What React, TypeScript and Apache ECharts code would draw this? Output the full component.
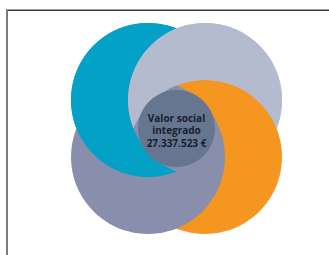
import React, { useEffect, useRef } from "react";
import * as echarts from "echarts";

// Diagram content
const labelLines: string[] = ["Valor social", "integrado"];
const totalValue: number = 27337523;
const currencySign: string = "€";
// petals clockwise from top-left: each one is covered by the next one
const petalColors: string[] = ["#04a1c6", "#b5bbce", "#f4961f", "#898eac"];
const centerColor = "#677690";
const textColor = "#18202f";

const W = 329;
const H = 255;
const CX = 176.5;
const CY = 128.5;
const OFF = 28.5;
const R = 77;
const RC = 38.5;
const DIRS = [
  [-1, -1],
  [1, -1],
  [1, 1],
  [-1, 1],
];

function fmt(n: number): string {
  return String(n).replace(/\B(?=(\d{3})+(?!\d))/g, ".");
}

function centerOf(i: number): [number, number] {
  return [CX + DIRS[i][0] * OFF, CY + DIRS[i][1] * OFF];
}

// crescent = circle i minus circle j (same radius)
function crescent(i: number, j: number): number[][] {
  const [ax, ay] = centerOf(i);
  const [bx, by] = centerOf(j);
  const d = Math.hypot(bx - ax, by - ay);
  const th = Math.atan2(by - ay, bx - ax);
  const al = Math.acos(d / (2 * R));
  const pts: number[][] = [];
  const n1 = 90;
  for (let k = 0; k <= n1; k++) {
    const a = th + al + ((2 * Math.PI - 2 * al) * k) / n1;
    pts.push([ax + R * Math.cos(a), ay + R * Math.sin(a)]);
  }
  const n2 = 40;
  for (let k = 1; k < n2; k++) {
    const a = th + Math.PI + al - (2 * al * k) / n2;
    pts.push([bx + R * Math.cos(a), by + R * Math.sin(a)]);
  }
  return pts;
}

export default function App() {
  const ref = useRef<HTMLDivElement>(null);
  useEffect(() => {
    if (!ref.current) return;
    const chart = echarts.init(ref.current, null, { renderer: "svg" });
    const elements: any[] = [];
    // frame lines
    elements.push({
      type: "rect",
      shape: { x: 6, y: 9.5, width: W - 6, height: 1.5 },
      style: { fill: "#3a3a3a" },
      z: 1,
    });
    elements.push({
      type: "rect",
      shape: { x: 6, y: 10, width: 2, height: H - 10 },
      style: { fill: "#7c7c7c" },
      z: 1,
    });
    petalColors.forEach((c, i) => {
      const [x, y] = centerOf(i);
      elements.push({
        type: "circle",
        shape: { cx: x, cy: y, r: R },
        style: { fill: c },
        z: 2 + i,
      });
    });
    // fix the cyclic overlap: first and second petals on top where they are not covered by the next
    [0, 1].forEach((i) => {
      elements.push({
        type: "polygon",
        shape: { points: crescent(i, i + 1) },
        style: { fill: petalColors[i] },
        z: 10 + i,
      });
    });
    elements.push({
      type: "circle",
      shape: { cx: CX, cy: CY, r: RC },
      style: { fill: centerColor },
      z: 20,
    });
    elements.push({
      type: "text",
      x: CX,
      y: CY + 1.5,
      z: 21,
      style: {
        text: [...labelLines, `${fmt(totalValue)} ${currencySign}`].join("\n"),
        fill: textColor,
        font: 'bold 10px "Open Sans"',
        align: "center",
        verticalAlign: "middle",
        textAlign: "center",
        textVerticalAlign: "middle",
        lineHeight: 12.5,
      },
    });
    chart.setOption({
      animation: false,
      backgroundColor: "#ffffff",
      graphic: { elements },
    });
    return () => chart.dispose();
  }, []);
  return (
    <div
      ref={ref}
      style={{ position: "fixed", left: 0, top: 0, width: W, height: H }}
    />
  );
}
